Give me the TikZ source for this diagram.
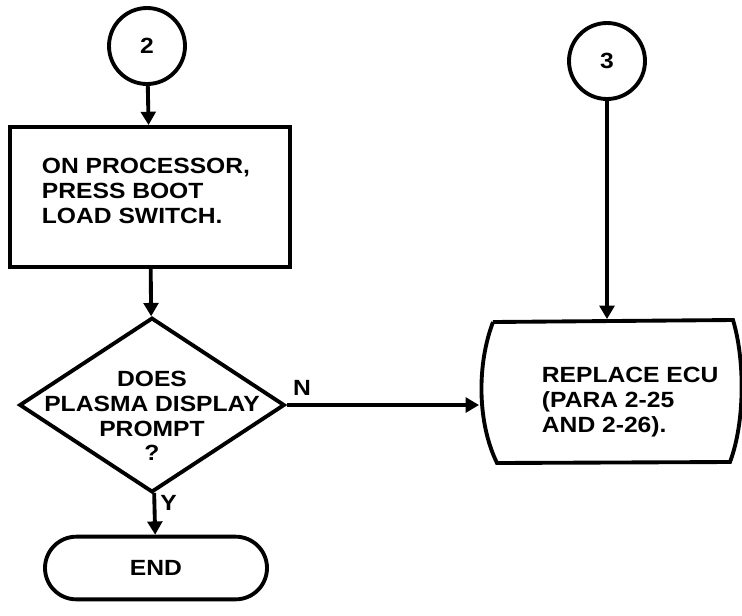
\documentclass[tikz,border=0pt]{standalone}
\usepackage{fontspec}
\newfontfamily\fcfont{Liberation Sans}[FakeStretch=1.12]
\usetikzlibrary{arrows.meta,shapes.geometric,shapes.misc}
\begin{document}
\begin{tikzpicture}[x=0.75pt,y=-0.75pt,line width=2.9pt,
  >={Triangle[length=10pt,width=11pt]},
  every node/.style={font=\fcfont\bfseries\fontsize{16.5}{18.5}\selectfont},
  conn/.style={draw,circle,minimum size=57pt,inner sep=0pt},
  procbox/.style={draw,rectangle,minimum width=210pt,minimum height=105pt,inner sep=0pt},
  decbox/.style={draw,diamond,minimum width=199pt,minimum height=131pt,inner sep=0pt},
  termbox/.style={draw,rounded rectangle,minimum width=166.5pt,minimum height=47pt,inner sep=0pt},
  ghost/.style={rectangle,minimum width=195pt,minimum height=106.5pt,inner sep=0pt},
  txt/.style={align=left,inner sep=0pt},
  ctxt/.style={align=center,inner sep=0pt},
  flow/.style={->}]
\useasboundingbox (0,0) rectangle (742,615);
% nodes
\node[conn] (c2) at (147,46) {2};
\node[conn] (c3) at (607,61) {3};
\node[procbox] (p1) at (150,197) {};
\node[txt,anchor=west] (p1t) at (40,191) {ON PROCESSOR,\\PRESS BOOT\\LOAD SWITCH.};
\node[decbox] (d) at (152,405) {};
\node[ctxt] (dt) at (152,416) {DOES\\PLASMA DISPLAY\\PROMPT\\?};
\node[termbox] (e) at (156,568) {END};
% ECU display shape
\draw (493,322) -- (733,320) .. controls (745,360) and (745,422) .. (730,462)
  -- (497,463) .. controls (477,422) and (477,364) .. (493,322);
\node[ghost] (ecu) at (611,392) {};
\node[txt,anchor=west] (ecut) at (540,402) {REPLACE ECU\\(PARA 2-25\\AND 2-26).};
% connectors
\draw[flow] (c2) -- (p1);
\draw[flow] (p1) -- (d);
\draw[flow] (d) -- (e) node[pos=0.25,right,inner sep=3pt] {Y};
\draw[flow] (d.east) -- (ecu.west |- d.east) node[pos=0.08,above,inner sep=6pt] {N};
\draw[flow] (c3) -- (c3 |- ecu.north);
\end{tikzpicture}
\end{document}
